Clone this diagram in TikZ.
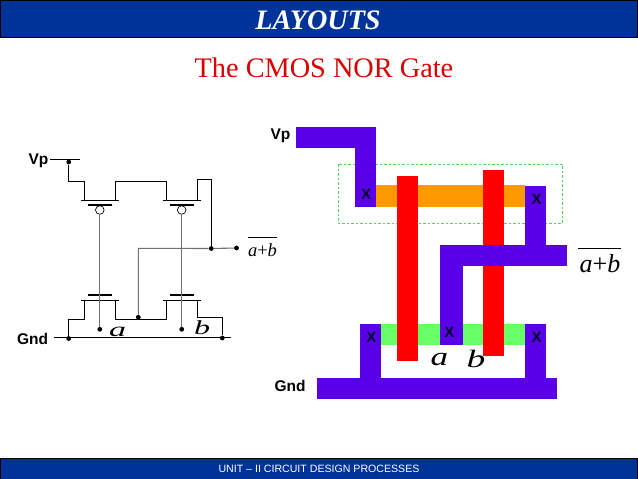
\documentclass[tikz,border=0pt]{standalone}
\usepackage{fontspec}
\setmainfont{Liberation Serif}
\setsansfont{Liberation Sans}
\definecolor{barblue}{HTML}{003399}
\definecolor{metal}{HTML}{5A00E6}
\definecolor{poly}{HTML}{FF0000}
\definecolor{pdiff}{HTML}{FF9900}
\definecolor{ndiff}{HTML}{66FF66}
\definecolor{wiregray}{HTML}{707070}
\tikzset{
  bar/.style={fill=barblue,draw=black,line width=0.8pt},
  wire/.style={draw=black,line width=0.9pt},
  gatewire/.style={draw=wiregray,line width=1.1pt},
  junction/.style={circle,fill=black,inner sep=0pt,minimum size=4.8pt},
  bubble/.style={circle,draw=black,fill=white,line width=0.7pt,inner sep=0pt,minimum size=8.6pt},
  pinlabel/.style={font=\sffamily\bfseries\fontsize{15.5}{15.5}\selectfont,inner sep=0pt},
  contact/.style={font=\sffamily\bfseries\fontsize{15}{15}\selectfont,text=black!85!blue,inner sep=0pt},
  outlabel/.style={inner sep=0pt},
  metalbox/.style={fill=metal},
  polybox/.style={fill=poly},
}
\newcommand{\wideit}[2]{\scalebox{#1}[1]{\textit{#2}}}
\begin{document}
\begin{tikzpicture}[x=1pt,y=-1pt]
\useasboundingbox (0,0) rectangle (638,479);
\fill[white] (0,0) rectangle (638,479);
% header and footer
\draw[bar] (0.4,0.6) rectangle (637.6,37);
\draw[bar] (0.4,458) rectangle (637.6,479.5);
\node (head) at (318,20.5) [inner sep=0pt,text=white,font=\bfseries\itshape\fontsize{28.2}{28.2}\selectfont] {LAYOUTS};
\node (title) at (324,68) [inner sep=0pt,text=red!85!black,font=\fontsize{28.3}{28.3}\selectfont] {The CMOS NOR Gate};
\node (foot) at (319,469) [inner sep=0pt,text=white,font=\sffamily\fontsize{10.6}{10.6}\selectfont] {UNIT – II CIRCUIT DESIGN PROCESSES};

% ---- schematic
\node[pinlabel] (vpL) at (38.5,161) {Vp};
\node[pinlabel] (gndL) at (32.5,339) {Gnd};
\coordinate (vprailL) at (50,159.5);
\coordinate (vprailR) at (80,159.5);
\coordinate (gndrailL) at (53.5,337.7);
\coordinate (gndrailR) at (230.7,337.7);
\node[junction] (jvp) at (68.7,162) {};
\node[junction] (jgndL) at (68.7,338.5) {};
\node[junction] (jgndR) at (222.3,338) {};
\node[junction] (jmid) at (138.3,317.3) {};
\node[junction] (jout) at (211.3,248.5) {};
\node[junction] (jend) at (236.5,248) {};
\node[junction] (ja) at (99.8,329.3) {};
\node[junction] (jb) at (181.7,329.3) {};
\node[bubble] (bubA) at (99.8,210) {};
\node[bubble] (bubB) at (181.7,210) {};
\draw[wire] (vprailL) -- (vprailR);
\draw[wire] (gndrailL) -- (gndrailR);
% PMOS pair
\draw[wire] (jvp) |- (84.7,181.3) -- (84.7,200.5);
\draw[wire] (115.3,200.5) -- (115.3,181.3) -- (166,181.3) -- (166,200.5);
\draw[wire] (197.3,200.5) -- (197.3,179.3) -- (211.3,179.3) -- (jout);
\draw[wire,line width=1.1pt] (80.7,200.5) -- (119,200.5);
\draw[wire,line width=1.1pt] (162.7,200.5) -- (201.3,200.5);
\draw[wire,line width=1.1pt] (88.3,205) -- (111.7,205);
\draw[wire,line width=1.1pt] (170.3,205) -- (193.7,205);
% NMOS pair
\draw[wire,line width=1.1pt] (80.7,300.3) -- (119,300.3);
\draw[wire,line width=1.1pt] (162.7,300.3) -- (201.3,300.3);
\draw[wire,line width=1.1pt] (88.3,295) -- (111.7,295);
\draw[wire,line width=1.1pt] (170.3,295) -- (193.7,295);
\draw[wire] (84.7,300.3) -- (84.7,319.3) -- (68.7,319.3) -- (jgndL);
\draw[wire] (115.3,300.3) -- (115.3,319.3) -- (166,319.3) -- (166,300.3);
\draw[wire] (197.3,300.3) -- (197.3,317.3) -- (222.3,317.3) -- (jgndR);
% gates and output
\draw[gatewire] (bubA) -- (ja);
\draw[gatewire] (bubB) -- (jb);
\draw[gatewire] (jmid) -- (138.3,248.3) -- (jout);
\draw[gatewire] (jout) -- (jend);
\node[outlabel] (aL) at (117.5,332) {\fontsize{20}{20}\selectfont\wideit{1.7}{a}};
\node[outlabel] (bL) at (202,328) {\fontsize{20}{20}\selectfont\wideit{1.6}{b}};
\node[outlabel,font=\fontsize{18.5}{18.5}\selectfont] (outL) at (262.5,250.5) {\textit{a}+\textit{b}};
\draw[line width=0.8pt] (248,237.3) -- (277,237.3);

% ---- layout
\draw[draw=ndiff!85!black,dashed,line width=0.5pt,dash pattern=on 2.5pt off 2pt] (338.3,164.3) rectangle (562.3,223.3);
\fill[pdiff] (376,185) rectangle (525,207.3);
\fill[ndiff] (381,324.3) rectangle (525,345.3);
\fill[metalbox] (296,127.3) rectangle (376,148.3);
\fill[metalbox] (354.7,148) rectangle (376,207.3);
\fill[metalbox] (360,324.3) rectangle (381,378);
\fill[metalbox] (525,324.3) rectangle (546,378);
\fill[metalbox] (317.3,377.7) rectangle (556.7,398.7);
\fill[polybox] (397.3,175.7) rectangle (418.3,361);
\fill[polybox] (482.7,170) rectangle (503.7,356);
\fill[metalbox] (525,185.7) rectangle (546,265.7);
\fill[metalbox] (440,244.7) rectangle (567,265.7);
\fill[metalbox] (440,265) rectangle (463.3,345.3);
\node[contact] (x1) at (366,194.5) {X};
\node[contact] (x2) at (536.7,199) {X};
\node[contact] (x3) at (371.3,337.5) {X};
\node[contact] (x4) at (449.3,332) {X};
\node[contact] (x5) at (536.7,337.5) {X};
\node[pinlabel] (vpR) at (280.5,136) {Vp};
\node[pinlabel] (gndR) at (290,386) {Gnd};
\node[outlabel] (aR) at (439.5,359.5) {\fontsize{26}{26}\selectfont\wideit{1.35}{a}};
\node[outlabel] (bR) at (476,358.5) {\fontsize{25}{25}\selectfont\wideit{1.5}{b}};
\node[outlabel,font=\fontsize{26}{26}\selectfont] (outR) at (600,264) {\textit{a}+\textit{b}};
\draw[line width=0.8pt] (578,248) -- (621,248);
\end{tikzpicture}
\end{document}
